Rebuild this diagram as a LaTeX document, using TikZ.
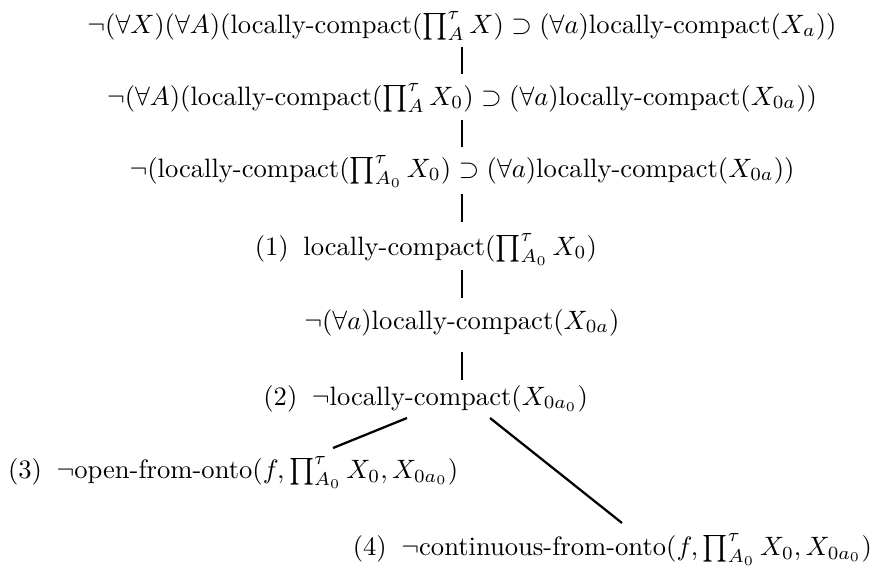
\documentclass[tikz,border=0pt]{standalone}
\usepackage{amsmath}
\newcommand{\lc}{\text{locally-compact}}
\newcommand{\pt}{\prod\nolimits^{\tau}_{A_0}}
\newcommand{\lsep}{\hspace{0.55em}}
\begin{document}
\begin{tikzpicture}[x=0.376pt,y=-0.376pt,
  ln/.style={inner sep=0pt,outer sep=0pt,anchor=base},
  bar/.style={line width=0.75pt},
  br/.style={line width=0.85pt}]
\useasboundingbox (0,0) rectangle (874,569);
\node[ln] (n1) at (462,33) {$\neg(\forall X)(\forall A)(\lc(\prod\nolimits^{\tau}_{A} X) \supset (\forall a)\lc(X_a))$};
\node[ln] (n2) at (462,105) {$\neg(\forall A)(\lc(\prod\nolimits^{\tau}_{A} X_0) \supset (\forall a)\lc(X_{0a}))$};
\node[ln] (n3) at (462,177) {$\neg(\lc(\pt X_0) \supset (\forall a)\lc(X_{0a}))$};
\node[ln,anchor=base east] (n4) at (597,255) {(1)\lsep locally-compact($\pt X_0$)};
\node[ln] (n5) at (462,329) {$\neg(\forall a)\lc(X_{0a})$};
\node[ln,anchor=base east] (n6) at (588,405) {(2)\lsep $\neg\lc(X_{0a_0})$};
\node[ln,anchor=base west] (n7) at (8,478) {(3)\lsep $\neg\text{open-from-onto}(f,\pt X_0,X_{0a_0})$};
\node[ln,anchor=base east] (n8) at (872,555) {(4)\lsep $\neg\text{continuous-from-onto}(f,\pt X_0,X_{0a_0})$};
\coordinate (t12a) at (462,47); \coordinate (t12b) at (462,74);
\coordinate (t23a) at (462,120); \coordinate (t23b) at (462,147);
\coordinate (t34a) at (462,194); \coordinate (t34b) at (462,222);
\coordinate (t45a) at (462,270); \coordinate (t45b) at (462,298);
\coordinate (t56a) at (462,352); \coordinate (t56b) at (462,380);
\coordinate (l7a) at (407,418); \coordinate (l7b) at (333,448);
\coordinate (l8a) at (490,418); \coordinate (l8b) at (622,523);
\draw[bar] (t12a) -- (t12b);
\draw[bar] (t23a) -- (t23b);
\draw[bar] (t34a) -- (t34b);
\draw[bar] (t45a) -- (t45b);
\draw[bar] (t56a) -- (t56b);
\draw[br] (l7a) -- (l7b);
\draw[br] (l8a) -- (l8b);
\end{tikzpicture}
\end{document}
